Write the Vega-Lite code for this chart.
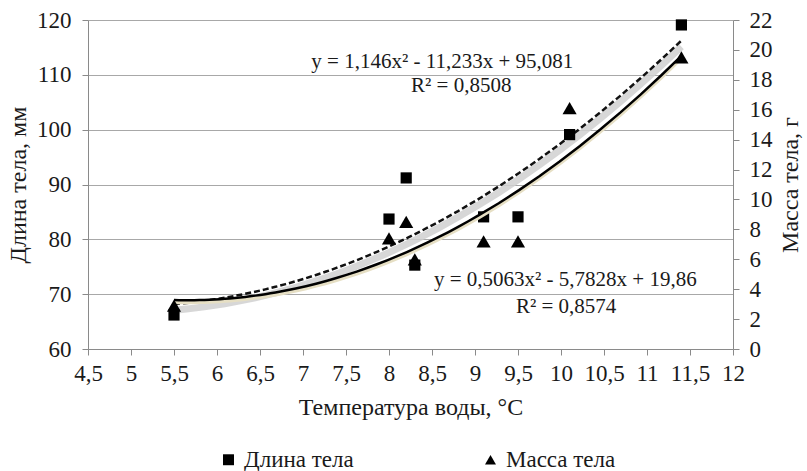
{
  "$schema": "https://vega.github.io/schema/vega-lite/v6.json",
  "width": 645,
  "height": 329,
  "autosize": {"type": "none"},
  "padding": {"left": 88, "top": 20, "right": 74, "bottom": 122},
  "background": "white",
  "config": {
    "font": "Liberation Serif",
    "view": {"stroke": null},
    "axis": {
      "labelFont": "Liberation Serif",
      "titleFont": "Liberation Serif",
      "labelFontSize": 23,
      "titleFontSize": 24,
      "titleFontWeight": "normal",
      "labelColor": "#1a1a1a",
      "titleColor": "#1a1a1a",
      "domainColor": "#8a8a8a",
      "tickColor": "#8a8a8a",
      "gridColor": "#a8a8a8",
      "tickSize": 6,
      "labelOverlap": false,
      "labelFlush": false
    },
    "legend": {
      "labelFont": "Liberation Serif",
      "labelFontSize": 23,
      "labelColor": "#1a1a1a"
    }
  },
  "datasets": {
    "length": [
      {"t": 5.5, "value": 66.2, "series": "Длина тела"},
      {"t": 8.0, "value": 83.7, "series": "Длина тела"},
      {"t": 8.2, "value": 91.2, "series": "Длина тела"},
      {"t": 8.3, "value": 75.3, "series": "Длина тела"},
      {"t": 9.1, "value": 84.1, "series": "Длина тела"},
      {"t": 9.5, "value": 84.1, "series": "Длина тела"},
      {"t": 10.1, "value": 99.1, "series": "Длина тела"},
      {"t": 11.4, "value": 119.1, "series": "Длина тела"}
    ],
    "mass": [
      {"t": 5.5, "value": 2.9, "series": "Масса тела"},
      {"t": 8.0, "value": 7.4, "series": "Масса тела"},
      {"t": 8.2, "value": 8.5, "series": "Масса тела"},
      {"t": 8.3, "value": 6.0, "series": "Масса тела"},
      {"t": 9.1, "value": 7.2, "series": "Масса тела"},
      {"t": 9.5, "value": 7.2, "series": "Масса тела"},
      {"t": 10.1, "value": 16.1, "series": "Масса тела"},
      {"t": 11.4, "value": 19.5, "series": "Масса тела"}
    ],
    "notes": [
      {"t": 8.62, "value": 112.4, "text": "y = 1,146x² - 11,233x + 95,081"},
      {"t": 8.84, "value": 108.0, "text": "R² = 0,8508"},
      {"t": 10.05, "value": 72.6, "text": "y = 0,5063x² - 5,7828x + 19,86"},
      {"t": 10.06, "value": 67.6, "text": "R² = 0,8574"}
    ]
  },
  "layer": [
    {
      "layer": [
        {
          "data": {"name": "length"},
          "transform": [{"regression": "value", "on": "t", "method": "poly", "order": 2, "extent": [5.5, 11.4]}],
          "mark": {"type": "line", "color": "#d0d0d0", "strokeWidth": 7, "yOffset": 6, "opacity": 0.85},
          "encoding": {
            "x": {"field": "t", "type": "quantitative"},
            "y": {"field": "value", "type": "quantitative"}
          }
        },
        {
          "data": {"name": "length"},
          "transform": [{"regression": "value", "on": "t", "method": "poly", "order": 2, "extent": [5.5, 11.4]}],
          "mark": {"type": "line", "color": "#111111", "strokeWidth": 2.5, "strokeDash": [6, 3]},
          "encoding": {
            "x": {"field": "t", "type": "quantitative"},
            "y": {"field": "value", "type": "quantitative"}
          }
        },
        {
          "data": {"name": "length"},
          "mark": {"type": "point", "filled": true, "opacity": 1, "size": 125},
          "encoding": {
            "x": {
              "field": "t",
              "type": "quantitative",
              "scale": {"domain": [4.5, 12], "nice": false, "zero": false},
              "axis": {
                "title": "Температура воды, °C",
                "values": [4.5, 5, 5.5, 6, 6.5, 7, 7.5, 8, 8.5, 9, 9.5, 10, 10.5, 11, 11.5, 12],
                "labelExpr": "replace(format(datum.value, '.1~f'), '.', ',')",
                "grid": false,
                "labelFlush": false,
                "labelOverlap": false,
                "labelPadding": 7,
                "titlePadding": 10
              }
            },
            "y": {
              "field": "value",
              "type": "quantitative",
              "scale": {"domain": [60, 120], "nice": false, "zero": false},
              "axis": {
                "orient": "left",
                "title": "Длина тела, мм",
                "values": [60, 70, 80, 90, 100, 110, 120],
                "grid": true,
                "labelPadding": 11,
                "titlePadding": 6
              }
            },
            "shape": {
              "field": "series",
              "type": "nominal",
              "scale": {"domain": ["Длина тела", "Масса тела"], "range": ["square", "triangle-up"]},
              "legend": {
                "title": null,
                "orient": "none",
                "direction": "horizontal",
                "legendX": 129,
                "legendY": 428,
                "columnPadding": 125,
                "symbolFillColor": "#000000",
                "symbolStrokeColor": "#000000",
                "symbolSize": 120,
                "labelOffset": 4
              }
            },
            "color": {"value": "#000000"}
          }
        },
        {
          "data": {"name": "notes"},
          "mark": {"type": "text", "font": "Liberation Serif", "fontSize": 21, "color": "#1a1a1a", "align": "center", "baseline": "middle"},
          "encoding": {
            "x": {"field": "t", "type": "quantitative"},
            "y": {"field": "value", "type": "quantitative"},
            "text": {"field": "text"}
          }
        }
      ]
    },
    {
      "encoding": {
        "x": {"field": "t", "type": "quantitative"},
        "y": {
          "field": "value",
          "type": "quantitative",
          "scale": {"domain": [0, 22], "nice": false, "zero": true},
          "axis": {
            "orient": "right",
            "title": "Масса тела, г",
            "titleAngle": 270,
            "values": [0, 2, 4, 6, 8, 10, 12, 14, 16, 18, 20, 22],
            "grid": false,
            "labelOverlap": false,
            "labelFlush": false,
            "labelBound": false,
            "labelPadding": 10,
            "titlePadding": 30
          }
        }
      },
      "layer": [
        {
          "data": {"name": "mass"},
          "transform": [{"regression": "value", "on": "t", "method": "poly", "order": 2, "extent": [5.5, 11.4]}],
          "mark": {"type": "line", "color": "#e6dfc4", "strokeWidth": 4, "yOffset": 2}
        },
        {
          "data": {"name": "mass"},
          "transform": [{"regression": "value", "on": "t", "method": "poly", "order": 2, "extent": [5.5, 11.4]}],
          "mark": {"type": "line", "color": "#000000", "strokeWidth": 2.5}
        },
        {
          "data": {"name": "mass"},
          "mark": {"type": "point", "filled": true, "opacity": 1, "size": 200},
          "encoding": {
            "shape": {"field": "series", "type": "nominal"},
            "color": {"value": "#000000"}
          }
        }
      ]
    }
  ],
  "resolve": {"scale": {"y": "independent"}}
}
